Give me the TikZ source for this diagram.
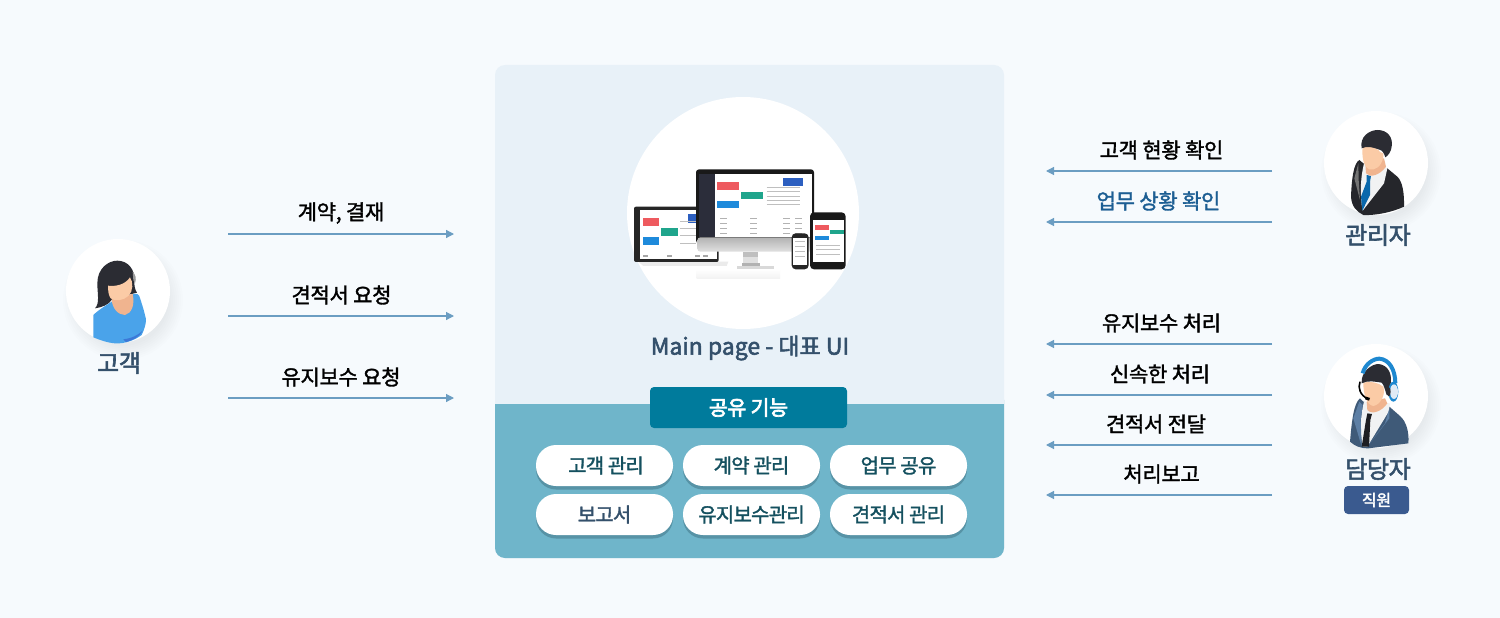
\documentclass[tikz,border=0pt]{standalone}
\usepackage{fontspec}
\setmainfont{Noto Sans CJK KR}
\newfontfamily\krm[RawFeature={embolden=1.6},LetterSpace=-1.5]{Noto Sans CJK KR}
\newfontfamily\krp[RawFeature={embolden=1.6},LetterSpace=-4]{Noto Sans CJK KR}
\newfontfamily\krb[RawFeature={embolden=2.4},LetterSpace=-1.5]{Noto Sans CJK KR}
\newfontfamily\krc[RawFeature={embolden=2.4}]{Noto Sans CJK KR}
\newfontfamily\krt[RawFeature={embolden=3.4},LetterSpace=-1.5]{Noto Sans CJK KR}
\usetikzlibrary{arrows.meta}
\definecolor{bgc}{HTML}{F6FAFD}
\definecolor{topc}{HTML}{E8F1F8}
\definecolor{botc}{HTML}{6FB5CA}
\definecolor{tagc}{HTML}{007B9C}
\definecolor{arrc}{HTML}{6B9DC2}
\definecolor{navy}{HTML}{34506B}
\definecolor{pilltxt}{HTML}{14505F}
\definecolor{pillsh}{HTML}{5793A6}
\definecolor{bluetxt}{HTML}{1C5E93}
\definecolor{badge}{HTML}{3A5A8F}
\definecolor{skin}{HTML}{FBCBA6}
\definecolor{skind}{HTML}{F0B48F}
\definecolor{hairc}{HTML}{2B2C33}
\definecolor{shirtb}{HTML}{4AA3EA}
\definecolor{shirtd}{HTML}{3C78D7}
\definecolor{jackk}{HTML}{25262B}
\definecolor{tieb}{HTML}{0A68AC}
\definecolor{jacka}{HTML}{3F5A78}
\definecolor{jackl}{HTML}{5D7FA5}
\definecolor{tiek}{HTML}{1E1E22}
\definecolor{headb}{HTML}{1E88D0}
\definecolor{headl}{HTML}{E1EBF5}
\definecolor{scrr}{HTML}{EE5A5F}
\definecolor{scrg}{HTML}{1FA58C}
\definecolor{scrb}{HTML}{1E8ADB}
\definecolor{scrd}{HTML}{2C5FC0}
\definecolor{sidebar}{HTML}{2B2D3A}
\definecolor{shirtw}{HTML}{F1F2F3}
\tikzset{
  x=1pt,y=-1pt,
  zoomed/.style={x=0.33333pt,y=-0.33333pt},
  conn/.style={draw=arrc,line width=1.2pt,-{Triangle[length=8pt,width=8pt]}},
  msg/.style={font=\krm\fontsize{21}{24}\selectfont,text=black,inner sep=0pt},
  who/.style={font=\krb\fontsize{24}{28}\selectfont,text=navy,inner sep=0pt},
  pill/.style={fill=white,rounded corners=20pt,minimum width=137pt,minimum height=41pt,inner sep=0pt,font=\krp\fontsize{20}{24}\selectfont,text=pilltxt},
  pillshadow/.style={fill=pillsh,rounded corners=20pt,minimum width=137pt,minimum height=41pt,inner sep=0pt},
  disc/.style={fill=white,circle,inner sep=0pt,minimum size=104pt},
}
\newcommand{\softshadow}[3]{%
  \foreach \k in {0,...,7}{\fill[black!60!blue,opacity=0.006] (#1+5,#2+9) circle ({#3+8-\k*2});}%
}
\begin{document}
\begin{tikzpicture}
\useasboundingbox (0,0) rectangle (1500,618);
\fill[bgc] (0,0) rectangle (1500,618);

% central panel
\fill[topc,rounded corners=10pt] (495,65) rectangle (1004,558);
\fill[botc,rounded corners=10pt] (495,390) rectangle (1004,558);
\fill[topc] (495,385) rectangle (1004,404);
\node[fill=white,circle,inner sep=0pt,minimum size=232pt] (screencircle) at (743,213) {};

% devices image
\begin{scope}[shift={(620,150)},zoomed]
  \shade[top color=white,bottom color=black!6,opacity=.8] (230,358) rectangle (480,385);
  % laptop
  \fill[black!8] (55,335) -- (325,335) -- (320,348) -- (70,348) -- cycle;
  \fill[black!85,rounded corners=2pt] (42,170) rectangle (296,336);
  \fill[white] (60,180) rectangle (290,326);
  \fill[scrr] (68,205) rectangle (118,228);
  \fill[scrg] (122,233) rectangle (174,258);
  \fill[scrb] (68,262) rectangle (118,285);
  \fill[scrd] (204,192) rectangle (232,218);
  \foreach \yy in {215,235,255,280}{\draw[black!25,line width=.6pt] (180,\yy) -- (228,\yy);}
  \foreach \xx in {70,140,225,250}{\fill[black!35] (\xx,316) rectangle +(15,4);}
  % monitor stand
  \fill[black!25] (370,305) rectangle (415,322);
  \fill[black!12] (370,322) rectangle (415,338);
  \fill[black!30] (365,338) rectangle (420,347);
  \fill[black!15] (350,347) rectangle (462,358);
  % monitor
  \fill[black!90,rounded corners=3pt] (228,58) rectangle (582,280);
  \shade[top color=black!30,bottom color=black!12,rounded corners=3pt] (232,262) rectangle (580,305);
  \fill[sidebar] (238,72) rectangle (285,262);
  \fill[white] (285,72) rectangle (575,262);
  \fill[scrr] (292,97) rectangle (356,120);
  \fill[scrg] (362,125) rectangle (428,148);
  \fill[scrb] (292,152) rectangle (356,174);
  \fill[scrd] (488,84) rectangle (550,108);
  \foreach \yy in {112,125,138,150,163}{\draw[black!25,line width=.6pt] (440,\yy) -- (540,\yy);}
  \foreach \yy in {205,220,235,248}{
    \foreach \xx in {300,390,490,525}{\fill[black!30] (\xx,\yy) rectangle +(20,3);}}
  % tablet
  \fill[black!90,rounded corners=4pt] (570,187) rectangle (677,358);
  \fill[white] (580,210) rectangle (672,335);
  \fill[scrr] (584,226) rectangle (627,240);
  \fill[scrg] (630,240) rectangle (672,252);
  \fill[scrb] (584,257) rectangle (627,269);
  \foreach \yy in {285,298,312}{\draw[black!25,line width=.6pt] (588,\yy) -- (660,\yy);}
  % phone
  \fill[black!85,rounded corners=4pt] (515,250) rectangle (566,358);
  \fill[white] (520,265) rectangle (561,345);
  \foreach \yy in {275,290,305,320}{\draw[black!25,line width=.6pt] (525,\yy) -- (555,\yy);}
\end{scope}

\node[font=\krc\fontsize{23}{27}\selectfont,text=navy,inner sep=0pt] (caption) at (750,348) {Main page - 대표 UI};

% shared functions tag
\node[fill=tagc,rounded corners=4pt,minimum width=197pt,minimum height=41pt,inner sep=0pt,font=\krt\fontsize{20.5}{24}\selectfont,text=white] (tag) at (748.5,407.5) {공유 기능};

% pills
\foreach \px/\py in {604.5/465.5,751.5/465.5,898.5/465.5,604.5/514.5,751.5/514.5,898.5/514.5}{
  \node[pillshadow] at (\px,\py+3.5) {};
}
\node[pill] (p1) at (604.5,465.5) {\hspace{3pt}고객 관리};
\node[pill] (p2) at (751.5,465.5) {계약 관리};
\node[pill] (p3) at (898.5,465.5) {업무 공유};
\node[pill,text=navy] (p4) at (604.5,514.5) {보고서};
\node[pill] (p5) at (751.5,514.5) {유지보수관리};
\node[pill] (p6) at (898.5,514.5) {견적서 관리};

% left connectors
\coordinate (la1) at (228,234); \coordinate (lb1) at (454,234);
\coordinate (la2) at (228,316); \coordinate (lb2) at (454,316);
\coordinate (la3) at (228,398); \coordinate (lb3) at (454,398);
\draw[conn] (la1) -- (lb1);
\draw[conn] (la2) -- (lb2);
\draw[conn] (la3) -- (lb3);
\node[msg] (l1) at (341,213) {계약, 결재};
\node[msg] (l2) at (341.5,295) {견적서 요청};
\node[msg] (l3) at (341,377) {유지보수 요청};

% right connectors
\coordinate (ra1) at (1272,171); \coordinate (rb1) at (1046,171);
\coordinate (ra2) at (1272,222); \coordinate (rb2) at (1046,222);
\coordinate (ra3) at (1272,344); \coordinate (rb3) at (1046,344);
\coordinate (ra4) at (1272,395); \coordinate (rb4) at (1046,395);
\coordinate (ra5) at (1272,445); \coordinate (rb5) at (1046,445);
\coordinate (ra6) at (1272,495); \coordinate (rb6) at (1046,495);
\foreach \n in {1,...,6}{\draw[conn] (ra\n) -- (rb\n);}
\node[msg] (r1) at (1161.5,150) {고객 현황 확인};
\node[msg,text=bluetxt] (r2) at (1158.5,201) {업무 상황 확인};
\node[msg] (r3) at (1161.5,323) {유지보수 처리};
\node[msg] (r4) at (1160,374) {신속한 처리};
\node[msg] (r5) at (1156,424) {견적서 전달};
\node[msg] (r6) at (1161.5,474) {처리보고};

% customer
\softshadow{118}{291}{52}
\node[disc] (cust) at (118,291) {};
\begin{scope}[shift={(40,220)},zoomed]
  \fill[hairc] (165,265) .. controls (180,250) and (172,220) .. (172,190) .. controls (172,145) and (205,122) .. (232,122) .. controls (265,122) and (285,150) .. (283,180) .. controls (282,195) and (285,210) .. (291,218) -- (262,225) -- (215,240) .. controls (205,255) and (185,262) .. (165,265) -- cycle;
  \fill[black!40] (278,155) .. controls (287,165) and (290,175) .. (285,190) -- (280,180) -- cycle;
  \fill[shirtb] (160,285) .. controls (175,270) and (200,255) .. (218,243) -- (272,228) .. controls (280,220) and (292,218) .. (298,228) .. controls (305,250) and (312,270) .. (318,298) .. controls (318,315) and (312,330) .. (305,345) .. controls (285,360) and (255,372) .. (225,370) .. controls (200,368) and (180,360) .. (160,352) -- cycle;
  \fill[shirtd] (250,358) .. controls (275,355) and (295,345) .. (308,332) .. controls (300,350) and (280,360) .. (258,366) -- cycle;
  \fill[skind] (215,235) .. controls (215,265) and (235,285) .. (255,285) .. controls (275,280) and (285,255) .. (278,222) -- cycle;
  \fill[skin] (204,197) .. controls (225,200) and (255,195) .. (270,172) .. controls (280,185) and (280,215) .. (265,228) .. controls (250,242) and (225,245) .. (212,235) .. controls (205,225) and (204,210) .. (204,197) -- cycle;
\end{scope}
\node[who] (custlabel) at (119,363) {고객};

% manager
\softshadow{1376}{163}{52}
\node[disc] (mgr) at (1376,163) {};
\begin{scope}[shift={(1310,100)},zoomed]
  \fill[jackk] (148,180) .. controls (130,190) and (125,240) .. (123,290) .. controls (125,320) and (140,335) .. (160,345) .. controls (200,347) and (250,335) .. (282,320) .. controls (283,280) and (278,245) .. (262,230) -- (232,205) -- (160,190) -- cycle;
  \fill[shirtw] (162,190) -- (232,205) -- (222,250) -- (158,332) .. controls (150,290) and (150,240) .. (162,190) -- cycle;
  \fill[black!55] (145,190) -- (133,235) -- (150,300) -- (146,240) -- cycle;
  \fill[tieb] (170,225) -- (183,228) -- (180,245) -- (180,285) -- (157,332) -- (153,290) -- (170,245) -- cycle;
  \fill[skind] (165,180) -- (222,175) -- (228,200) .. controls (210,225) and (180,235) .. (168,220) -- cycle;
  \fill[skin] (158,140) .. controls (170,135) and (190,140) .. (205,150) .. controls (212,165) and (222,150) .. (220,170) .. controls (215,200) and (195,212) .. (178,208) .. controls (160,200) and (155,170) .. (158,140) -- cycle;
  \fill[hairc] (155,145) .. controls (148,110) and (178,90) .. (203,90) .. controls (232,90) and (250,112) .. (245,140) .. controls (243,155) and (236,165) .. (226,172) .. controls (222,160) and (218,150) .. (205,148) .. controls (190,142) and (170,137) .. (155,145) -- cycle;
\end{scope}
\node[who] (mgrlabel) at (1378,235) {관리자};

% agent
\softshadow{1376}{396}{52}
\node[disc] (agent) at (1376,396) {};
\begin{scope}[shift={(1310,340)},zoomed]
  \fill[jacka] (150,175) .. controls (130,190) and (125,250) .. (120,305) .. controls (135,318) and (150,325) .. (175,325) -- (295,310) .. controls (298,280) and (290,245) .. (270,228) -- (238,200) -- (160,185) -- cycle;
  \fill[shirtw] (162,185) -- (240,190) -- (236,215) -- (172,320) -- (158,320) .. controls (150,280) and (150,230) .. (162,185) -- cycle;
  \fill[jackl] (148,185) -- (130,235) -- (155,320) -- (152,240) -- (158,195) -- cycle;
  \fill[jackl] (238,205) -- (225,250) -- (172,320) -- (238,235) -- cycle;
  \fill[tiek] (172,220) -- (186,222) -- (181,240) -- (177,320) -- (155,320) -- (168,240) -- cycle;
  \fill[skind] (170,185) -- (225,175) -- (232,190) .. controls (215,215) and (185,225) .. (172,210) -- cycle;
  \fill[skin] (160,128) .. controls (180,122) and (205,128) .. (220,140) .. controls (228,165) and (210,195) .. (190,198) .. controls (170,195) and (160,165) .. (160,128) -- cycle;
  \fill[hairc] (155,130) .. controls (152,95) and (185,72) .. (205,72) .. controls (235,74) and (250,105) .. (240,140) -- (230,165) .. controls (225,150) and (222,135) .. (215,128) .. controls (195,125) and (175,120) .. (155,130) -- cycle;
  \draw[headb,line width=4pt] (158,100) .. controls (165,72) and (190,56) .. (208,56) .. controls (238,58) and (256,90) .. (256,130);
  \fill[headb] (250,155) ellipse (15 and 30);
  \fill[headl] (252,155) ellipse (12 and 22);
  \fill[hairc] (236,155) ellipse (6 and 14);
  \draw[black,line width=1.6pt] (150,125) .. controls (143,145) and (150,165) .. (175,178);
  \fill[black] (168,170) -- (180,174) -- (177,182) -- (165,178) -- cycle;
\end{scope}
\node[who] (agentlabel) at (1378,469) {담당자};
\node[fill=badge,rounded corners=4pt,minimum width=65pt,minimum height=28pt,inner sep=0pt,font=\krb\fontsize{16}{20}\selectfont,text=white] (staff) at (1376.5,500) {직원};
\end{tikzpicture}
\end{document}
